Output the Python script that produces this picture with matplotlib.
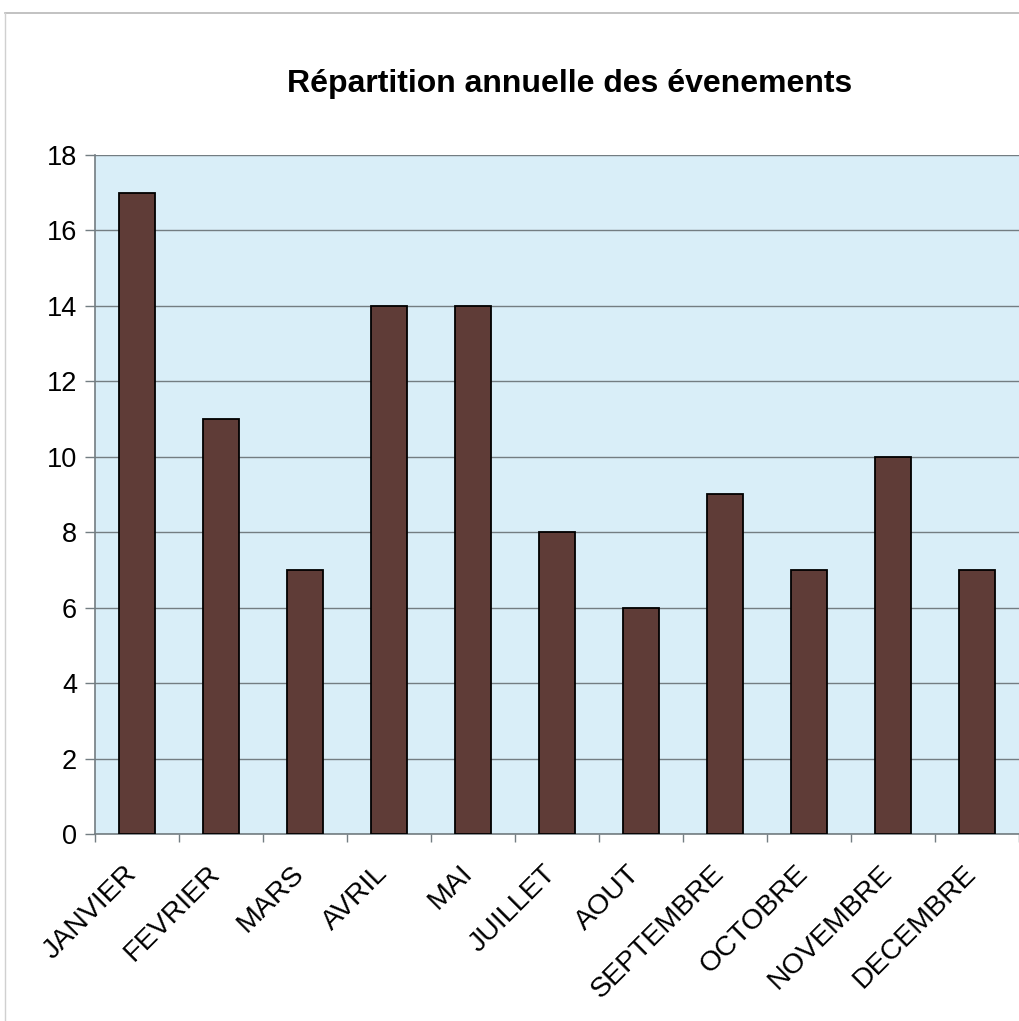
import numpy as np
from matplotlib import pyplot as plt
from matplotlib.lines import Line2D
from matplotlib.transforms import ScaledTranslation

mois = ["JANVIER", "FEVRIER", "MARS", "AVRIL", "MAI", "JUILLET", "AOUT",
        "SEPTEMBRE", "OCTOBRE", "NOVEMBRE", "DECEMBRE"]
evenements = [17, 11, 7, 14, 14, 8, 6, 9, 7, 10, 7]
yticks = [0, 2, 4, 6, 8, 10, 12, 14, 16, 18]

plt.rcParams['font.family'] = ['Liberation Sans', 'DejaVu Sans']

fig = plt.figure(figsize=(10.19, 10.21), dpi=100)
ax = fig.add_axes([95 / 1019, 1 - 834 / 1021, 924 / 1019, 679 / 1021])
ax.set_facecolor("#d9eef8")

x = np.arange(len(mois))
ax.bar(x, evenements, width=0.42, color="#5f3c37", edgecolor="black",
       linewidth=1.3, zorder=3)

ax.set_xlim(-0.5, len(mois) - 0.5)
ax.set_ylim(0, 18)
ax.set_yticks(yticks)
ax.set_yticklabels([str(v) for v in yticks], fontsize=19.5)
ax.yaxis.grid(True, color="#737d82", linewidth=1.0, zorder=1)
ax.tick_params(axis='y', length=7, width=1, color="#737d82", pad=6)

# category boundary ticks
ax.set_xticks(np.arange(len(mois) + 1) - 0.5)
ax.set_xticklabels([])
ax.tick_params(axis='x', which='major', length=6, width=1, color="#737d82")
ax.set_xticks(x, minor=True)
ax.set_xticklabels(mois, minor=True, rotation=45, ha='right',
                   rotation_mode='anchor', fontsize=20.5)
ax.tick_params(axis='x', which='minor', length=0, pad=19)
shift = ScaledTranslation(-14 / 100, 0, fig.dpi_scale_trans)
for lab in ax.get_xticklabels(minor=True):
    lab.set_transform(lab.get_transform() + shift)

for side in ['top', 'right']:
    ax.spines[side].set_visible(False)
for side in ['left', 'bottom']:
    ax.spines[side].set_color("#737d82")
    ax.spines[side].set_linewidth(1.2)

fig.text(570 / 1019, 1 - 84 / 1021, "Répartition annuelle des évenements",
         ha='center', va='center', fontsize=23, fontweight='bold')

# thin frame of the chart area
fig.add_artist(Line2D([5 / 1019, 1], [1 - 13 / 1021, 1 - 13 / 1021],
                      color="#b8b8b8", linewidth=1.2))
fig.add_artist(Line2D([5 / 1019, 5 / 1019], [0, 1 - 13 / 1021],
                      color="#d0d0d0", linewidth=1.0))

plt.savefig("out.png", dpi=100, facecolor="white")
